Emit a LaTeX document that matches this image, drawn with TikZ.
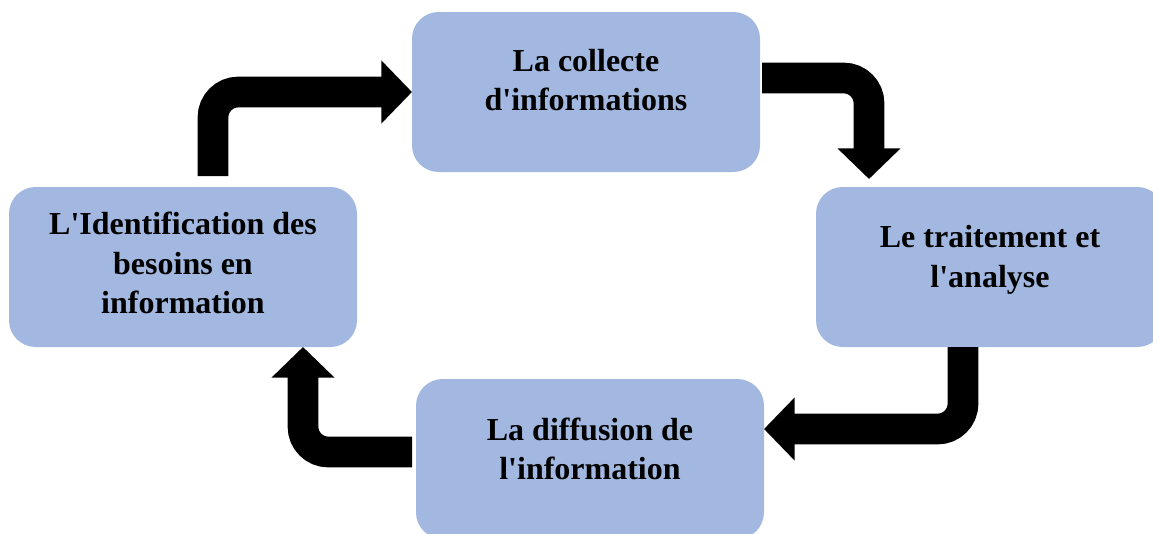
\documentclass[tikz,border=0pt]{standalone}
\usepackage{fontspec}
\setmainfont{Liberation Serif}[Ligatures=TeXOff]
\usepackage{xcolor}
\usetikzlibrary{arrows.meta,calc,positioning}

\definecolor{bleuetape}{RGB}{162,184,224}
\newcommand{\cale}[1]{\rule[-#1]{0pt}{#1}}

\begin{document}
\begin{tikzpicture}[
    x=0.75pt, y=-0.75pt,
    etape/.style={rectangle, rounded corners=20pt, fill=bleuetape,
      minimum width=261pt, minimum height=120pt, inner sep=0pt, outer sep=0pt,
      align=center, font=\fontsize{24}{29.5}\selectfont\bfseries},
    fleche/.style={-{Triangle[length=23pt, width=46pt]}, line width=23pt,
      rounded corners=19pt}
  ]
    \clip (0,0) rectangle (1153,533);

    % ── Les quatre étapes ────────────────────────────────────
    \node[etape] (collecte)   at (586,92)  {La collecte\\d'informations\cale{18pt}};
    \node[etape] (traitement) at (990,267) {Le traitement et\\l'analyse\cale{16pt}};
    \node[etape] (diffusion)  at (590,459) {La diffusion de\\l'information\cale{15pt}};
    \node[etape] (besoins)    at (183,267) {L'Identification des\\besoins en\\information\cale{6pt}};

    % ── Flèches du cycle ─────────────────────────────────────
    \draw[fleche] ($(besoins.north)+(30,-11)$)      |- (collecte.west);
    \draw[fleche] ($(collecte.east)+(2,-14)$)       -| ($(traitement.north west)+(53,-8)$);
    \draw[fleche] ($(traitement.south)+(-27,0)$)    |- ($(diffusion.east)+(0,-30)$);
    \draw[fleche] ($(diffusion.west)+(-4,-7)$)      -| ($(besoins.south east)+(-54,0)$);
\end{tikzpicture}
\end{document}
